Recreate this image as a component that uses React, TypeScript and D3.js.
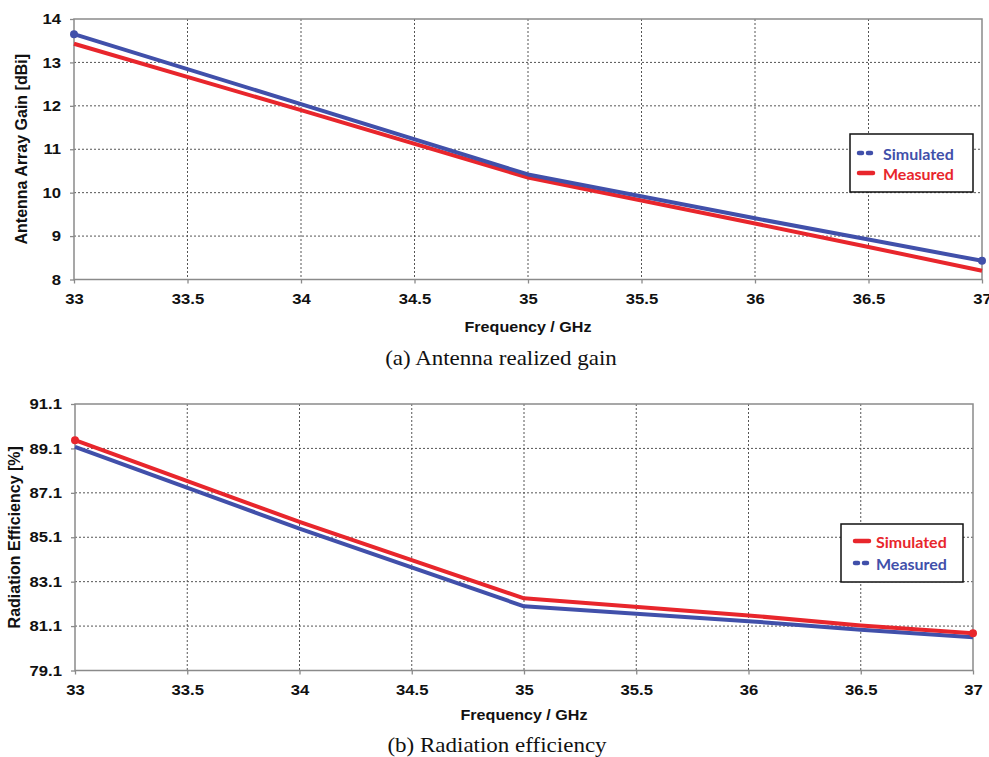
import React, { useRef, useEffect } from "react";
import * as d3 from "d3";

const freqs = [33, 34, 35, 36, 36.5, 37];
const xTicks = [33, 33.5, 34, 34.5, 35, 35.5, 36, 36.5, 37];

// (a) gain [dBi]
const gainSimulated = [13.65, 12.04, 10.42, 9.41, 8.92, 8.43];
const gainMeasured = [13.43, 11.9, 10.35, 9.29, 8.75, 8.2];
const gainTicks = [8, 9, 10, 11, 12, 13, 14];

// (b) efficiency [%]
const effSimulated = [89.47, 85.79, 82.35, 81.58, 81.13, 80.78];
const effMeasured = [89.17, 85.49, 81.99, 81.32, 80.94, 80.6];
const effTicks = [79.1, 81.1, 83.1, 85.1, 87.1, 89.1, 91.1];

const BLUE = "#4150aa";
const RED = "#e8262c";
const SANS = "'Liberation Sans', Arial, sans-serif";
const STRETCH = "scale(1.15,1)"; // la figura original está algo ensanchada

const panels = [
  {
    left: 74, right: 982, top: 19, bottom: 279.5,
    yDomain: [8, 14], yTicks: gainTicks, fmt: d3.format("d"),
    yTitle: "Antenna Array Gain [dBi]", yTitleX: 21,
    caption: "(a) Antenna realized gain", captionX: 501, captionY: 365, freqY: 332,
    series: [
      { name: "Simulated", values: gainSimulated, color: BLUE, dash: "5,5" },
      { name: "Measured", values: gainMeasured, color: RED, dash: null },
    ],
    lineOrder: [1, 0],
    markerSeries: 0,
    legend: { x: 850, y: 134, w: 123, h: 58, r0: 19, dy: 20, mx: 7, tx: 33 },
  },
  {
    left: 75, right: 973, top: 404, bottom: 670.5,
    yDomain: [79.1, 91.1], yTicks: effTicks, fmt: d3.format(".1f"),
    yTitle: "Radiation Efficiency [%]", yTitleX: 14,
    caption: "(b) Radiation efficiency", captionX: 497, captionY: 752, freqY: 720,
    series: [
      { name: "Simulated", values: effSimulated, color: RED, dash: null },
      { name: "Measured", values: effMeasured, color: BLUE, dash: "5,4" },
    ],
    lineOrder: [1, 0],
    markerSeries: 0,
    legend: { x: 841, y: 524, w: 122, h: 58, r0: 17, dy: 22, mx: 12, tx: 35 },
  },
];

const App = () => {
  const ref = useRef<SVGSVGElement>(null);

  useEffect(() => {
    const svg = d3.select(ref.current);
    svg.selectAll("*").remove();

    panels.forEach((p) => {
      const x = d3.scaleLinear().domain([33, 37]).range([p.left, p.right]);
      const y = d3.scaleLinear().domain(p.yDomain).range([p.bottom, p.top]);
      const g = svg.append("g");

      // rejilla punteada
      g.selectAll(".vg")
        .data(xTicks.slice(1, -1))
        .enter()
        .append("line")
        .attr("x1", (d) => x(d)).attr("x2", (d) => x(d))
        .attr("y1", p.top).attr("y2", p.bottom)
        .attr("stroke", "#555").attr("stroke-width", 1)
        .attr("stroke-dasharray", "2,2");
      g.selectAll(".hg")
        .data(p.yTicks.slice(1, -1))
        .enter()
        .append("line")
        .attr("x1", p.left).attr("x2", p.right)
        .attr("y1", (d) => y(d)).attr("y2", (d) => y(d))
        .attr("stroke", "#555").attr("stroke-width", 1)
        .attr("stroke-dasharray", "2,2");

      // marco
      g.append("rect")
        .attr("x", p.left).attr("y", p.top)
        .attr("width", p.right - p.left).attr("height", p.bottom - p.top)
        .attr("fill", "none").attr("stroke", "#8a8a8a").attr("stroke-width", 1.5);

      // ejes
      const xAxis = g.append("g")
        .attr("transform", `translate(0,${p.bottom})`)
        .call(d3.axisBottom(x).tickValues(xTicks).tickSize(4).tickPadding(10.5)
          .tickFormat((d) => String(d)));
      const yAxis = g.append("g")
        .attr("transform", `translate(${p.left},0)`)
        .call(d3.axisLeft(y).tickValues(p.yTicks).tickSize(4).tickPadding(7.3)
          .tickFormat((d) => p.fmt(d as number)));
      [xAxis, yAxis].forEach((a) => {
        a.select(".domain").remove();
        a.selectAll(".tick line").attr("stroke", "#8a8a8a").attr("stroke-width", 1.3);
        a.selectAll(".tick text")
          .attr("fill", "#111")
          .attr("transform", STRETCH)
          .style("font-family", SANS)
          .style("font-weight", "bold")
          .style("font-size", "14.5px");
      });

      // líneas
      const line = d3.line<number>()
        .x((_d, i) => x(freqs[i]))
        .y((d) => y(d));
      p.lineOrder.forEach((si) => {
        const s = p.series[si];
        g.append("path")
          .attr("d", line(s.values))
          .attr("fill", "none")
          .attr("stroke", s.color)
          .attr("stroke-width", 4)
          .attr("stroke-linejoin", "round");
      });
      const ms = p.series[p.markerSeries];
      g.selectAll(".mk")
        .data([0, ms.values.length - 1])
        .enter()
        .append("circle")
        .attr("cx", (i) => x(freqs[i]))
        .attr("cy", (i) => y(ms.values[i]))
        .attr("r", 4)
        .attr("fill", ms.color);

      // títulos
      g.append("text")
        .attr("transform", `translate(${p.yTitleX},${(p.top + p.bottom) / 2}) rotate(-90)`)
        .attr("text-anchor", "middle")
        .attr("dominant-baseline", "central")
        .style("font-family", SANS)
        .style("font-weight", "bold")
        .style("font-size", "16px")
        .attr("fill", "#111")
        .text(p.yTitle);
      g.append("g")
        .attr("transform", `translate(${(p.left + p.right) / 2},${p.freqY}) ${STRETCH}`)
        .append("text")
        .attr("text-anchor", "middle")
        .style("font-family", SANS)
        .style("font-weight", "bold")
        .style("font-size", "14px")
        .attr("fill", "#111")
        .text("Frequency / GHz");
      g.append("g")
        .attr("transform", `translate(${p.captionX},${p.captionY}) ${STRETCH}`)
        .append("text")
        .attr("text-anchor", "middle")
        .style("font-family", "'Liberation Serif', 'Times New Roman', serif")
        .style("font-size", "20px")
        .attr("fill", "#111")
        .text(p.caption);

      // leyenda
      const L = p.legend;
      const lg = g.append("g").attr("transform", `translate(${L.x},${L.y})`);
      lg.append("rect")
        .attr("width", L.w).attr("height", L.h)
        .attr("fill", "#fff").attr("stroke", "#111").attr("stroke-width", 1.5);
      p.series.forEach((s, i) => {
        const yy = L.r0 + i * L.dy;
        lg.append("line")
          .attr("x1", L.mx + 2).attr("x2", L.mx + 16)
          .attr("y1", yy).attr("y2", yy)
          .attr("stroke", s.color).attr("stroke-width", 4.5)
          .attr("stroke-linecap", "round")
          .attr("stroke-dasharray", s.dash ? "3,6" : null);
        lg.append("text")
          .attr("x", L.tx).attr("y", yy)
          .attr("dominant-baseline", "central")
          .style("font-family", "Lato, 'Open Sans', sans-serif")
          .style("font-weight", "bold")
          .style("font-size", "16px")
          .attr("fill", s.color)
          .text(s.name);
      });
    });
  }, []);

  return (
    <svg
      ref={ref}
      width={989}
      height={757}
      style={{ position: "absolute", left: 0, top: 0, background: "#fff" }}
    />
  );
};

export default App;
